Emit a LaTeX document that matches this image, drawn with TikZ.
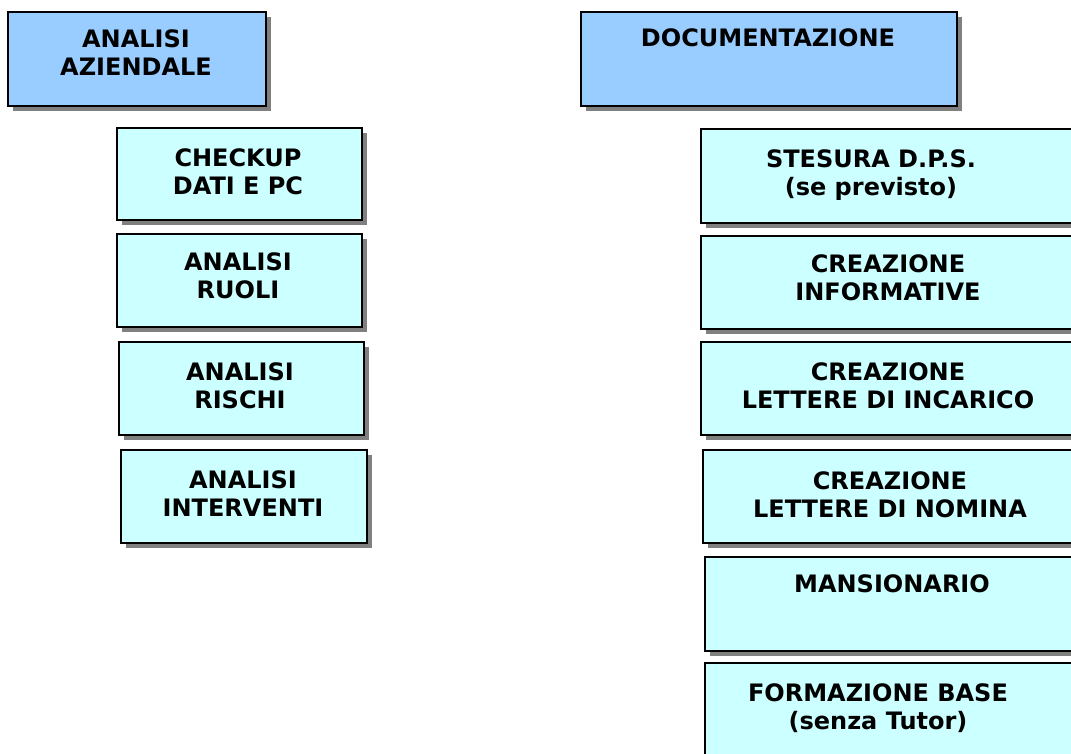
\documentclass[tikz,border=0pt]{standalone}
\usepackage{fontspec}
\setmainfont{DejaVu Sans}
\usetikzlibrary{shadows}
\definecolor{topblue}{HTML}{99CCFF}
\definecolor{subcyan}{HTML}{CCFFFF}
\definecolor{shadowgray}{HTML}{808080}
\tikzset{
  basebox/.style={draw=black, line width=2.2pt, rectangle, inner sep=0pt, anchor=north west,
    drop shadow={shadow xshift=5pt, shadow yshift=-5pt, opacity=1, fill=shadowgray}},
  topbox/.style={basebox, fill=topblue},
  subbox/.style={basebox, fill=subcyan},
  lbl/.style={anchor=north, inner sep=0pt, align=center,
    font=\fontsize{24}{28.5}\selectfont\bfseries}
}
\begin{document}
\begin{tikzpicture}[x=1pt,y=-1pt]
\useasboundingbox (0,0) rectangle (1071,753);
\clip (0,0) rectangle (1071,753);
% left column
\node[topbox, minimum width=258pt, minimum height=94pt] (az) at (7,11) {};
\node[lbl] (azT) at (136,29) {ANALISI\\AZIENDALE};
\node[subbox, minimum width=245pt, minimum height=92pt] (chk) at (116,127) {};
\node[lbl] (chkT) at (238,148) {CHECKUP\\DATI E PC};
\node[subbox, minimum width=245pt, minimum height=93pt] (ruo) at (116,233) {};
\node[lbl] (ruoT) at (238,252) {ANALISI\\RUOLI};
\node[subbox, minimum width=245pt, minimum height=93pt] (ris) at (118,341) {};
\node[lbl] (risT) at (240,362) {ANALISI\\RISCHI};
\node[subbox, minimum width=246pt, minimum height=93pt] (int) at (120,449) {};
\node[lbl] (intT) at (243,470) {ANALISI\\INTERVENTI};
% right column
\node[topbox, minimum width=376pt, minimum height=94pt] (doc) at (580,11) {};
\node[lbl] (docT) at (768,28) {DOCUMENTAZIONE};
\node[subbox, minimum width=376pt, minimum height=94pt] (dps) at (700,128) {};
\node[lbl] (dpsT) at (871,149) {STESURA D.P.S.\\(se previsto)};
\node[subbox, minimum width=376pt, minimum height=93pt] (inf) at (700,235) {};
\node[lbl] (infT) at (888,254) {CREAZIONE\\INFORMATIVE};
\node[subbox, minimum width=376pt, minimum height=93pt] (inc) at (700,341) {};
\node[lbl] (incT) at (888,362) {CREAZIONE\\LETTERE DI INCARICO};
\node[subbox, minimum width=374pt, minimum height=93pt] (nom) at (702,449) {};
\node[lbl] (nomT) at (890,471) {CREAZIONE\\LETTERE DI NOMINA};
\node[subbox, minimum width=372pt, minimum height=94pt] (man) at (704,556) {};
\node[lbl] (manT) at (892,574) {MANSIONARIO};
\node[subbox, minimum width=372pt, minimum height=100pt] (for) at (704,662) {};
\node[lbl] (forT) at (878,683) {FORMAZIONE BASE\\(senza Tutor)};
\end{tikzpicture}
\end{document}
